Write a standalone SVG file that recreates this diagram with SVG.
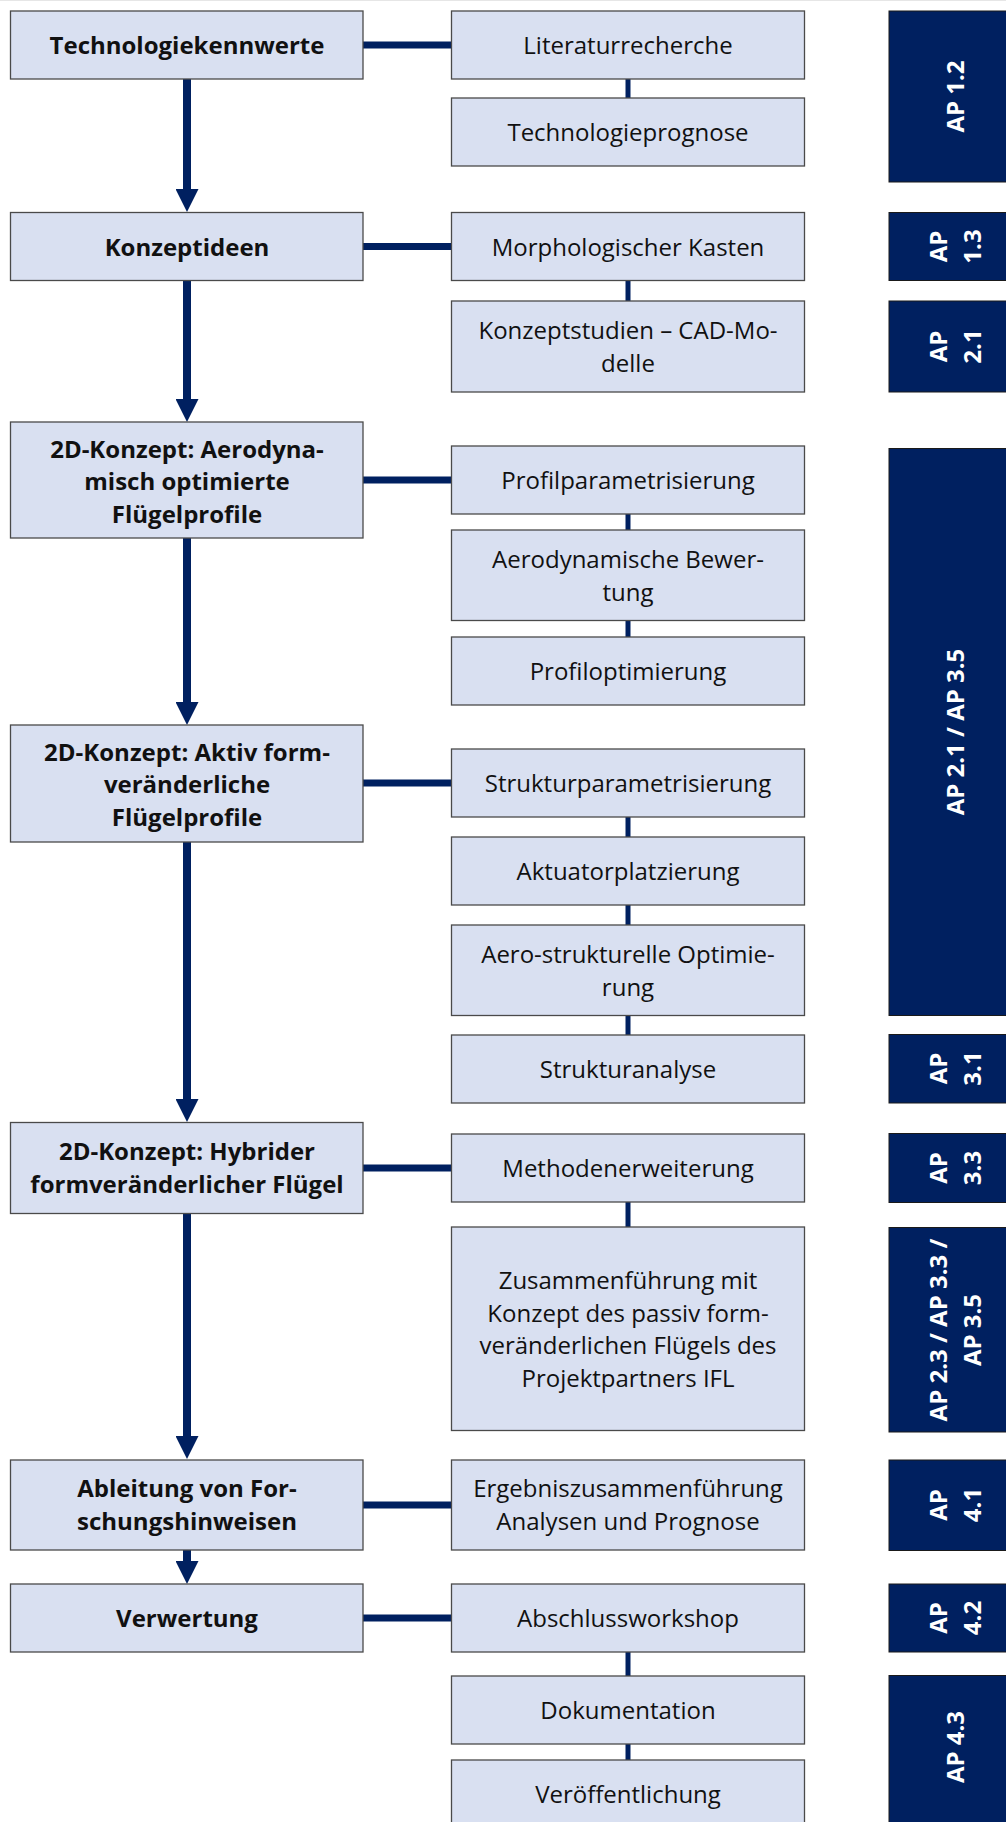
<svg xmlns="http://www.w3.org/2000/svg" width="1006" height="1822" viewBox="0 0 1006 1822">
<defs>
<style>
.b{fill:#d9e0f1;stroke:#4a4a4a;stroke-width:1.3}
.ap{fill:#002060;stroke:#1a1a1a;stroke-width:1}
.tl{font-family:"Open Sans","Noto Sans",sans-serif;font-size:24px;font-weight:bold;fill:#111;text-anchor:middle}
.tr{font-family:"Open Sans","Noto Sans",sans-serif;font-size:24px;fill:#111;text-anchor:middle}
.ta{font-family:"Open Sans","Noto Sans",sans-serif;font-size:24px;font-weight:bold;fill:#fff;text-anchor:middle}
.h{stroke:#002060;stroke-width:7;fill:none}
.v{stroke:#002060;stroke-width:5;fill:none}
.m{stroke:#002060;stroke-width:8;fill:none;marker-end:url(#ah)}
</style>
<marker id="ah" viewBox="0 0 23 23" markerWidth="23" markerHeight="23" refX="0" refY="11.5" orient="auto" markerUnits="userSpaceOnUse">
<path d="M0,0 L23,11.5 L0,23 Z" fill="#002060"/>
</marker>
</defs>
<rect width="1006" height="1822" fill="#fff"/>
<line x1="0" y1="0.5" x2="1006" y2="0.5" stroke="#e6e6e6" stroke-width="1"/>

<g id="connectors">
<line class="m" x1="187" y1="79" x2="187" y2="189"/>
<line class="m" x1="187" y1="280" x2="187" y2="399"/>
<line class="m" x1="187" y1="538" x2="187" y2="702"/>
<line class="m" x1="187" y1="842" x2="187" y2="1099"/>
<line class="m" x1="187" y1="1213" x2="187" y2="1436"/>
<line class="m" x1="187" y1="1550" x2="187" y2="1561"/>
<line class="h" x1="363" y1="45" x2="452" y2="45"/>
<line class="h" x1="363" y1="246.5" x2="452" y2="246.5"/>
<line class="h" x1="363" y1="480" x2="452" y2="480"/>
<line class="h" x1="363" y1="783" x2="452" y2="783"/>
<line class="h" x1="363" y1="1168" x2="452" y2="1168"/>
<line class="h" x1="363" y1="1505" x2="452" y2="1505"/>
<line class="h" x1="363" y1="1618" x2="452" y2="1618"/>
<line class="v" x1="628" y1="79" x2="628" y2="98"/>
<line class="v" x1="628" y1="280" x2="628" y2="301"/>
<line class="v" x1="628" y1="513" x2="628" y2="530"/>
<line class="v" x1="628" y1="620" x2="628" y2="637"/>
<line class="v" x1="628" y1="817" x2="628" y2="837"/>
<line class="v" x1="628" y1="905" x2="628" y2="925"/>
<line class="v" x1="628" y1="1015" x2="628" y2="1035"/>
<line class="v" x1="628" y1="1202" x2="628" y2="1227"/>
<line class="v" x1="628" y1="1652" x2="628" y2="1676"/>
<line class="v" x1="628" y1="1743" x2="628" y2="1760"/>
</g>

<g id="n-technologiekennwerte"><rect class="b" x="10.5" y="11" width="352.5" height="68"/><text class="tl" x="187" y="54">Technologiekennwerte</text></g>
<g id="n-konzeptideen"><rect class="b" x="10.5" y="212.5" width="352.5" height="68"/><text class="tl" x="187" y="255.5">Konzeptideen</text></g>
<g id="n-aerodynamisch"><rect class="b" x="10.5" y="422" width="352.5" height="116"/><text class="tl" x="187" y="457.5">2D-Konzept: Aerodyna-<tspan x="187" dy="32.5">misch optimierte</tspan><tspan x="187" dy="32.5">Flügelprofile</tspan></text></g>
<g id="n-aktiv"><rect class="b" x="10.5" y="725" width="352.5" height="117"/><text class="tl" x="187" y="760.5">2D-Konzept: Aktiv form-<tspan x="187" dy="32.5">veränderliche</tspan><tspan x="187" dy="32.5">Flügelprofile</tspan></text></g>
<g id="n-hybrider"><rect class="b" x="10.5" y="1122.5" width="352.5" height="91"/><text class="tl" x="187" y="1160">2D-Konzept: Hybrider<tspan x="187" dy="32.5">formveränderlicher Flügel</tspan></text></g>
<g id="n-ableitung"><rect class="b" x="10.5" y="1460" width="352.5" height="90"/><text class="tl" x="187" y="1497">Ableitung von For-<tspan x="187" dy="32.5">schungshinweisen</tspan></text></g>
<g id="n-verwertung"><rect class="b" x="10.5" y="1584" width="352.5" height="68"/><text class="tl" x="187" y="1627">Verwertung</text></g>

<g id="n-literatur"><rect class="b" x="451.5" y="11" width="353" height="68"/><text class="tr" x="628" y="54">Literaturrecherche</text></g>
<g id="n-prognose"><rect class="b" x="451.5" y="98" width="353" height="68"/><text class="tr" x="628" y="141">Technologieprognose</text></g>
<g id="n-morph"><rect class="b" x="451.5" y="212.5" width="353" height="68"/><text class="tr" x="628" y="255.5">Morphologischer Kasten</text></g>
<g id="n-cad"><rect class="b" x="451.5" y="301" width="353" height="91"/><text class="tr" x="628" y="339">Konzeptstudien – CAD-Mo-<tspan x="628" dy="32.5">delle</tspan></text></g>
<g id="n-profilparam"><rect class="b" x="451.5" y="446" width="353" height="68"/><text class="tr" x="628" y="489">Profilparametrisierung</text></g>
<g id="n-aerobew"><rect class="b" x="451.5" y="530" width="353" height="90.5"/><text class="tr" x="628" y="568">Aerodynamische Bewer-<tspan x="628" dy="32.5">tung</tspan></text></g>
<g id="n-profilopt"><rect class="b" x="451.5" y="637" width="353" height="68"/><text class="tr" x="628" y="680">Profiloptimierung</text></g>
<g id="n-strukturparam"><rect class="b" x="451.5" y="749" width="353" height="68"/><text class="tr" x="628" y="792">Strukturparametrisierung</text></g>
<g id="n-aktuator"><rect class="b" x="451.5" y="837" width="353" height="68"/><text class="tr" x="628" y="880">Aktuatorplatzierung</text></g>
<g id="n-aerostrukt"><rect class="b" x="451.5" y="925" width="353" height="90.5"/><text class="tr" x="628" y="963">Aero-strukturelle Optimie-<tspan x="628" dy="32.5">rung</tspan></text></g>
<g id="n-strukturanalyse"><rect class="b" x="451.5" y="1035" width="353" height="68"/><text class="tr" x="628" y="1078">Strukturanalyse</text></g>
<g id="n-methoden"><rect class="b" x="451.5" y="1134" width="353" height="68"/><text class="tr" x="628" y="1177">Methodenerweiterung</text></g>
<g id="n-zusammen"><rect class="b" x="451.5" y="1227" width="353" height="203.5"/><text class="tr" x="628" y="1289">Zusammenführung mit<tspan x="628" dy="32.5">Konzept des passiv form-</tspan><tspan x="628" dy="32.5">veränderlichen Flügels des</tspan><tspan x="628" dy="32.5">Projektpartners IFL</tspan></text></g>
<g id="n-ergebnis"><rect class="b" x="451.5" y="1460" width="353" height="90"/><text class="tr" x="628" y="1497">Ergebniszusammenführung<tspan x="628" dy="32.5">Analysen und Prognose</tspan></text></g>
<g id="n-workshop"><rect class="b" x="451.5" y="1584" width="353" height="68"/><text class="tr" x="628" y="1627">Abschlussworkshop</text></g>
<g id="n-doku"><rect class="b" x="451.5" y="1676" width="353" height="68"/><text class="tr" x="628" y="1719">Dokumentation</text></g>
<g id="n-veroeff"><rect class="b" x="451.5" y="1760" width="353" height="68"/><text class="tr" x="628" y="1803">Veröffentlichung</text></g>

<g id="ap-12"><rect class="ap" x="889" y="11" width="130" height="171"/><text class="ta" transform="translate(964,96.5) rotate(-90)">AP 1.2</text></g>
<g id="ap-13"><rect class="ap" x="889" y="212.5" width="130" height="68"/><text class="ta" transform="translate(947,246.5) rotate(-90)">AP<tspan x="0" dy="33.5">1.3</tspan></text></g>
<g id="ap-21"><rect class="ap" x="889" y="301" width="130" height="91"/><text class="ta" transform="translate(947,346.5) rotate(-90)">AP<tspan x="0" dy="33.5">2.1</tspan></text></g>
<g id="ap-21-35"><rect class="ap" x="889" y="448.5" width="130" height="567"/><text class="ta" transform="translate(964,732) rotate(-90)">AP 2.1 / AP 3.5</text></g>
<g id="ap-31"><rect class="ap" x="889" y="1034.5" width="130" height="68.5"/><text class="ta" transform="translate(947,1068.5) rotate(-90)">AP<tspan x="0" dy="33.5">3.1</tspan></text></g>
<g id="ap-33"><rect class="ap" x="889" y="1133.5" width="130" height="69"/><text class="ta" transform="translate(947,1168) rotate(-90)">AP<tspan x="0" dy="33.5">3.3</tspan></text></g>
<g id="ap-23-33-35"><rect class="ap" x="889" y="1227.5" width="130" height="204.5"/><text class="ta" transform="translate(947,1330) rotate(-90)">AP 2.3 / AP 3.3 /<tspan x="0" dy="33.5">AP 3.5</tspan></text></g>
<g id="ap-41"><rect class="ap" x="889" y="1460" width="130" height="90.5"/><text class="ta" transform="translate(947,1505) rotate(-90)">AP<tspan x="0" dy="33.5">4.1</tspan></text></g>
<g id="ap-42"><rect class="ap" x="889" y="1584" width="130" height="68"/><text class="ta" transform="translate(947,1618) rotate(-90)">AP<tspan x="0" dy="33.5">4.2</tspan></text></g>
<g id="ap-43"><rect class="ap" x="889" y="1675.5" width="130" height="160"/><text class="ta" transform="translate(964,1747) rotate(-90)">AP 4.3</text></g>
</svg>
